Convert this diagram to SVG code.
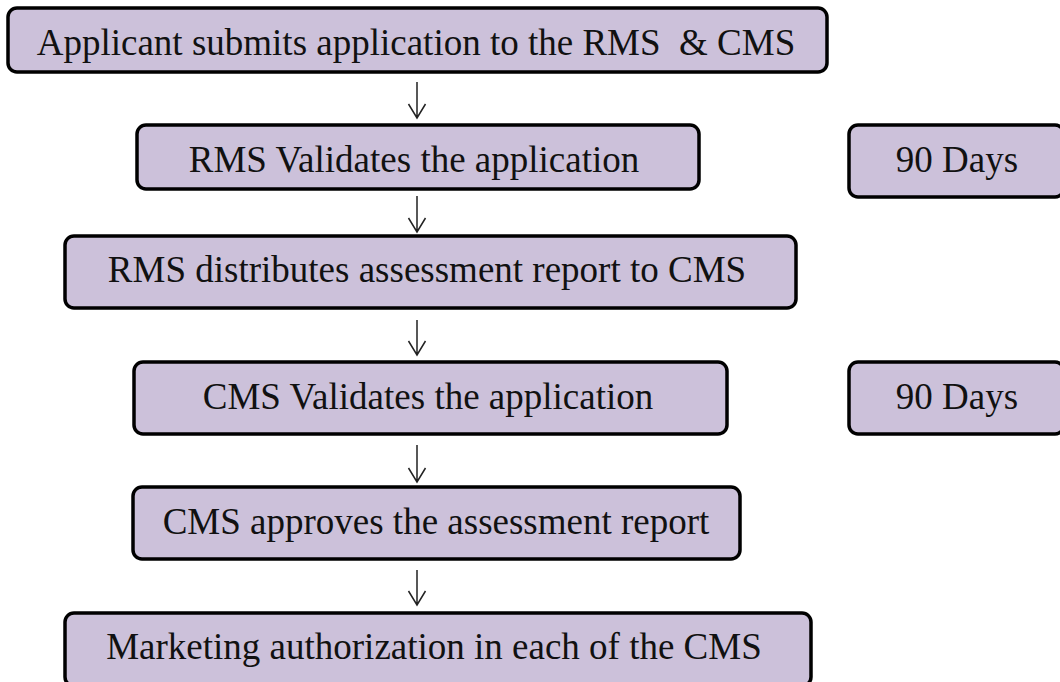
<svg xmlns="http://www.w3.org/2000/svg" width="1060" height="682" viewBox="0 0 1060 682">
<style>
.box{fill:#CCC1DA;stroke:#000;stroke-width:3.5}
.lbl{font-family:"Liberation Serif","Times New Roman",serif;font-size:37px;fill:#111;text-anchor:middle;white-space:pre}
.arr{fill:none;stroke:#222;stroke-width:1.5}
</style>
<rect width="1060" height="682" fill="#fff"/>
<g id="connectors">
<path class="arr" d="M417 82V118M408.5 104L417 118L425.5 104"/>
<path class="arr" d="M417 196V232M408.5 218L417 232L425.5 218"/>
<path class="arr" d="M417 320V355M408.5 341L417 355L425.5 341"/>
<path class="arr" d="M417 445V482M408.5 468L417 482L425.5 468"/>
<path class="arr" d="M417 570V605M408.5 591L417 605L425.5 591"/>
</g>
<g id="n1"><rect class="box" x="8" y="8" width="819" height="64" rx="9"/><text class="lbl" x="416" y="55">Applicant submits application to the RMS  &amp; CMS</text></g>
<g id="n2"><rect class="box" x="137" y="125" width="562" height="64" rx="9"/><text class="lbl" x="414" y="172">RMS Validates the application</text></g>
<g id="d1"><rect class="box" x="849" y="125" width="215" height="72" rx="9"/><text class="lbl" x="957" y="172">90 Days</text></g>
<g id="n3"><rect class="box" x="65" y="236" width="731" height="72" rx="9"/><text class="lbl" x="427" y="282">RMS distributes assessment report to CMS</text></g>
<g id="n4"><rect class="box" x="134" y="362" width="593" height="72" rx="9"/><text class="lbl" x="428" y="409">CMS Validates the application</text></g>
<g id="d2"><rect class="box" x="849" y="362" width="215" height="72" rx="9"/><text class="lbl" x="957" y="409">90 Days</text></g>
<g id="n5"><rect class="box" x="133" y="487" width="607" height="72" rx="9"/><text class="lbl" x="436" y="534">CMS approves the assessment report</text></g>
<g id="n6"><rect class="box" x="65" y="613" width="746" height="73" rx="9"/><text class="lbl" x="434" y="659">Marketing authorization in each of the CMS</text></g>
</svg>
